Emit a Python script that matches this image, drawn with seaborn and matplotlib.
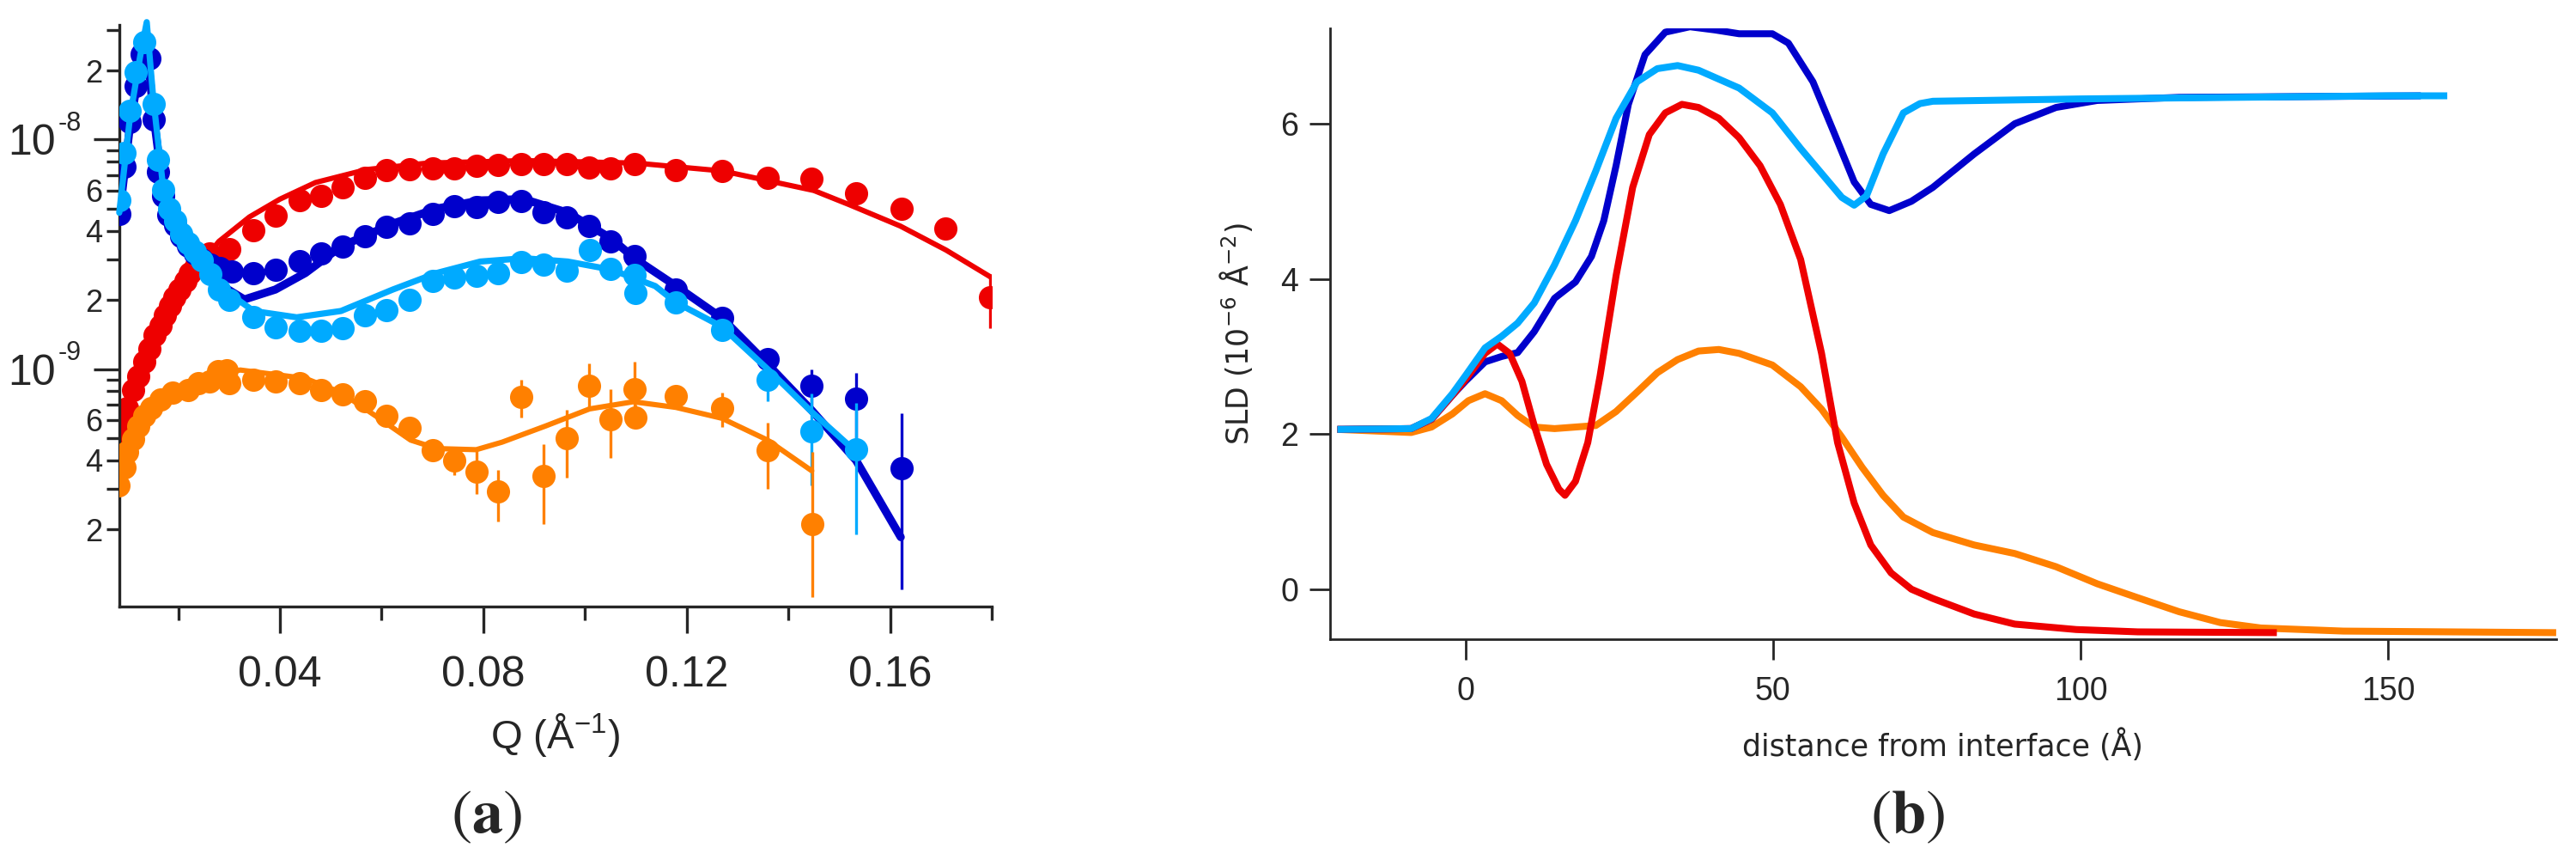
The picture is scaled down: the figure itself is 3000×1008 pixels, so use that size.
import numpy as np
import matplotlib
matplotlib.use("Agg")
import matplotlib.pyplot as plt
from matplotlib.ticker import FixedLocator, FixedFormatter
import seaborn as sns

# =========================
# Colours
# =========================
RED = "#EE0000"
DBLUE = "#0000CC"
LBLUE = "#00AAFF"
ORANGE = "#FF8000"

# =========================
# Panel (a): reflectivity data
# =========================
q_red = [0.0083, 0.0094, 0.0099, 0.0111, 0.0122, 0.0133, 0.0143, 0.0154, 0.0166, 0.0174,
         0.0184, 0.0193, 0.0203, 0.0214, 0.0223, 0.0234, 0.0246, 0.0262, 0.0300, 0.0348,
         0.0391, 0.0438, 0.0481, 0.0524, 0.0567, 0.0610, 0.0655, 0.0700, 0.0743, 0.0787,
         0.0829, 0.0875, 0.0919, 0.0964, 0.1008, 0.1050, 0.1097, 0.1179, 0.1269, 0.1359,
         0.1446, 0.1533, 0.1622, 0.1709, 0.1797]
r_red = [4.49e-10, 5.56e-10, 6.78e-10, 8.13e-10, 9.3e-10, 1.076e-9, 1.227e-9, 1.40e-9, 1.55e-9, 1.71e-9,
         1.89e-9, 2.05e-9, 2.22e-9, 2.42e-9, 2.62e-9, 2.80e-9, 2.99e-9, 3.20e-9, 3.33e-9, 4.03e-9,
         4.67e-9, 5.43e-9, 5.70e-9, 6.22e-9, 6.83e-9, 7.34e-9, 7.41e-9, 7.50e-9, 7.50e-9, 7.67e-9,
         7.75e-9, 7.85e-9, 7.85e-9, 7.85e-9, 7.55e-9, 7.50e-9, 7.80e-9, 7.35e-9, 7.30e-9, 6.84e-9,
         6.78e-9, 5.85e-9, 4.98e-9, 4.10e-9, 2.06e-9]
q_red_fit = [0.0084, 0.012, 0.016, 0.020, 0.024, 0.028, 0.034, 0.040, 0.047, 0.057,
             0.069, 0.088, 0.110, 0.127, 0.145, 0.152, 0.162, 0.171, 0.180]
r_red_fit = [4.4e-10, 9.0e-10, 1.45e-9, 2.1e-9, 2.8e-9, 3.6e-9, 4.6e-9, 5.5e-9, 6.5e-9, 7.4e-9,
             7.9e-9, 8.1e-9, 7.9e-9, 7.3e-9, 6.0e-9, 5.2e-9, 4.2e-9, 3.3e-9, 2.5e-9]
eb_red_q = [0.1797]
eb_red_lo = [1.5e-9]
eb_red_hi = [2.6e-9]

q_dblue = [0.0084, 0.0095, 0.0105, 0.0116, 0.0128, 0.0144, 0.0151, 0.0161, 0.0171, 0.0181,
           0.0194, 0.0205, 0.0220, 0.0233, 0.0247, 0.0264, 0.0281, 0.0305, 0.0348, 0.0391,
           0.0438, 0.0481, 0.0524, 0.0567, 0.0610, 0.0655, 0.0700, 0.0743, 0.0787, 0.0829,
           0.0875, 0.0919, 0.0964, 0.1008, 0.1050, 0.1097, 0.1179, 0.1269, 0.1359, 0.1446,
           0.1533, 0.1622]
r_dblue = [4.73e-9, 7.61e-9, 1.19e-8, 1.71e-8, 2.35e-8, 2.26e-8, 1.22e-8, 7.24e-9, 5.68e-9, 4.70e-9,
           4.25e-9, 3.80e-9, 3.45e-9, 3.20e-9, 3.00e-9, 2.85e-9, 2.75e-9, 2.67e-9, 2.62e-9, 2.71e-9,
           2.94e-9, 3.20e-9, 3.42e-9, 3.78e-9, 4.17e-9, 4.31e-9, 4.75e-9, 5.12e-9, 5.07e-9, 5.34e-9,
           5.40e-9, 4.81e-9, 4.60e-9, 4.22e-9, 3.60e-9, 3.10e-9, 2.22e-9, 1.67e-9, 1.10e-9, 8.45e-10,
           7.41e-10, 3.70e-10]
q_dblue_fit = [0.0084, 0.0105, 0.0125, 0.0138, 0.0151, 0.0171, 0.0194, 0.0220, 0.0250, 0.0280,
               0.0330, 0.0391, 0.0450, 0.0520, 0.0622, 0.0708, 0.0794, 0.0880, 0.0966, 0.1052,
               0.1098, 0.1179, 0.1269, 0.1359, 0.1446, 0.1533, 0.1621]
r_dblue_fit = [4.6e-9, 1.15e-8, 2.1e-8, 2.6e-8, 1.3e-8, 5.8e-9, 4.2e-9, 3.4e-9, 2.8e-9, 2.35e-9,
               2.01e-9, 2.22e-9, 2.62e-9, 3.42e-9, 4.30e-9, 5.00e-9, 5.43e-9, 5.50e-9, 4.80e-9, 3.70e-9,
               3.03e-9, 2.30e-9, 1.67e-9, 1.05e-9, 6.6e-10, 4.0e-10, 1.85e-10]
eb_dblue_q = [0.1446, 0.1533, 0.1622]
eb_dblue_lo = [6.6e-10, 4.4e-10, 1.1e-10]
eb_dblue_hi = [1.0e-9, 9.6e-10, 6.4e-10]

q_lblue = [0.0084, 0.0095, 0.0105, 0.0116, 0.0133, 0.0151, 0.0161, 0.0171, 0.0182, 0.0194,
           0.0205, 0.0220, 0.0233, 0.0247, 0.0264, 0.0280, 0.0300, 0.0348, 0.0391, 0.0438,
           0.0481, 0.0524, 0.0567, 0.0610, 0.0655, 0.0700, 0.0743, 0.0787, 0.0829, 0.0874,
           0.0919, 0.0964, 0.1009, 0.1051, 0.1097, 0.1099, 0.1179, 0.1269, 0.1359, 0.1446,
           0.1533]
r_lblue = [5.45e-9, 8.77e-9, 1.33e-8, 1.96e-8, 2.65e-8, 1.43e-8, 8.18e-9, 6.04e-9, 5.00e-9, 4.44e-9,
           3.90e-9, 3.53e-9, 3.24e-9, 2.97e-9, 2.60e-9, 2.22e-9, 2.01e-9, 1.68e-9, 1.52e-9, 1.47e-9,
           1.47e-9, 1.50e-9, 1.71e-9, 1.80e-9, 2.00e-9, 2.42e-9, 2.50e-9, 2.54e-9, 2.62e-9, 2.93e-9,
           2.84e-9, 2.68e-9, 3.29e-9, 2.73e-9, 2.57e-9, 2.14e-9, 1.95e-9, 1.48e-9, 9.0e-10, 5.37e-10,
           4.47e-10]
q_lblue_fit = [0.0084, 0.0105, 0.0125, 0.0138, 0.0151, 0.0171, 0.0194, 0.0220, 0.0250, 0.0280,
               0.0305, 0.0348, 0.0433, 0.0520, 0.0622, 0.0708, 0.0794, 0.0880, 0.0966, 0.1052,
               0.1138, 0.1179, 0.1269, 0.1359, 0.1446, 0.1533]
r_lblue_fit = [4.8e-9, 1.25e-8, 2.3e-8, 3.25e-8, 1.5e-8, 6.0e-9, 4.3e-9, 3.5e-9, 2.9e-9, 2.4e-9,
               2.1e-9, 1.79e-9, 1.68e-9, 1.79e-9, 2.22e-9, 2.62e-9, 2.94e-9, 3.04e-9, 2.94e-9, 2.71e-9,
               2.3e-9, 1.95e-9, 1.53e-9, 1.0e-9, 6.5e-10, 4.36e-10]
eb_lblue_q = [0.1359, 0.1446, 0.1533]
eb_lblue_lo = [7.25e-10, 3.1e-10, 1.9e-10]
eb_lblue_hi = [1.0e-9, 7.8e-10, 7.1e-10]

q_orange = [0.0083, 0.0094, 0.0100, 0.0111, 0.0122, 0.0133, 0.0146, 0.0166, 0.0189, 0.0219,
            0.0240, 0.0262, 0.0279, 0.0296, 0.0300, 0.0348, 0.0391, 0.0438, 0.0481, 0.0524,
            0.0567, 0.0610, 0.0655, 0.0700, 0.0743, 0.0787, 0.0829, 0.0875, 0.0919, 0.0964,
            0.1008, 0.1050, 0.1097, 0.1099, 0.1179, 0.1269, 0.1359, 0.1447]
r_orange = [3.12e-10, 3.74e-10, 4.34e-10, 4.96e-10, 5.65e-10, 6.25e-10, 6.78e-10, 7.36e-10, 7.87e-10, 8.13e-10,
            8.69e-10, 8.83e-10, 9.75e-10, 9.90e-10, 8.69e-10, 8.98e-10, 8.83e-10, 8.69e-10, 8.13e-10, 7.74e-10,
            7.24e-10, 6.25e-10, 5.56e-10, 4.42e-10, 4.00e-10, 3.56e-10, 2.92e-10, 7.53e-10, 3.42e-10, 4.99e-10,
            8.42e-10, 6.06e-10, 8.15e-10, 6.15e-10, 7.64e-10, 6.73e-10, 4.41e-10, 2.11e-10]
q_orange_fit = [0.0083, 0.0100, 0.0122, 0.0146, 0.0189, 0.0240, 0.0290, 0.0322, 0.0450, 0.0520,
                0.0588, 0.0657, 0.0709, 0.0786, 0.0837, 0.0923, 0.1009, 0.1095, 0.1179, 0.1269,
                0.1359, 0.1446]
r_orange_fit = [3.2e-10, 4.3e-10, 5.6e-10, 6.7e-10, 7.9e-10, 8.8e-10, 9.6e-10, 9.9e-10, 9.1e-10, 7.9e-10,
                6.25e-10, 4.9e-10, 4.5e-10, 4.45e-10, 4.8e-10, 5.65e-10, 6.7e-10, 7.2e-10, 6.8e-10, 6.1e-10,
                4.9e-10, 3.6e-10]
eb_orange_q = [0.0700, 0.0743, 0.0787, 0.0829, 0.0875, 0.0919, 0.0964, 0.1008, 0.1050, 0.1097,
               0.1099, 0.1179, 0.1269, 0.1359, 0.1447]
eb_orange_lo = [4.2e-10, 3.45e-10, 2.86e-10, 2.16e-10, 6.14e-10, 2.11e-10, 3.35e-10, 6.63e-10, 4.09e-10, 6.6e-10,
                5.6e-10, 7.1e-10, 5.57e-10, 3.0e-10, 1.01e-10]
eb_orange_hi = [4.7e-10, 4.57e-10, 4.5e-10, 3.63e-10, 8.98e-10, 4.7e-10, 6.65e-10, 1.06e-9, 8.16e-10, 1.08e-9,
                7.0e-10, 8.3e-10, 7.92e-10, 5.82e-10, 4.34e-10]

# =========================
# Panel (b): SLD profiles
# =========================
z_dblue = [-20.8, -8.8, -5.5, -2.1, 0.0, 3.2, 5.9, 8.5, 11.2, 14.5, 17.9, 20.5, 22.5, 24.5, 26.5,
           29.2, 32.5, 36.5, 40.5, 44.5, 49.9, 52.5, 56.5, 59.9, 63.2, 65.9, 68.9, 72.5, 76.0,
           82.7, 89.3, 96.0, 102.7, 116.0, 155.3]
sld_dblue = [2.06, 2.07, 2.19, 2.50, 2.68, 2.93, 3.00, 3.05, 3.32, 3.75, 3.96, 4.29, 4.75, 5.46, 6.25,
             6.89, 7.18, 7.25, 7.21, 7.16, 7.16, 7.04, 6.54, 5.89, 5.25, 4.96, 4.88, 5.00, 5.18,
             5.61, 6.00, 6.21, 6.30, 6.34, 6.36]

z_lblue = [-20.8, -8.8, -5.5, -2.1, 0.0, 3.2, 5.9, 8.5, 11.2, 14.5, 17.9, 21.2, 24.5, 27.9, 31.2,
           34.5, 37.9, 44.5, 49.9, 54.5, 57.9, 61.2, 63.2, 65.2, 67.9, 71.2, 73.9, 76.0, 100.0,
           150.0, 159.6]
sld_lblue = [2.06, 2.07, 2.20, 2.52, 2.75, 3.11, 3.26, 3.43, 3.69, 4.18, 4.75, 5.39, 6.07, 6.54, 6.71,
             6.75, 6.69, 6.46, 6.14, 5.68, 5.36, 5.05, 4.95, 5.07, 5.61, 6.14, 6.26, 6.29, 6.32,
             6.36, 6.36]

z_red = [-20.8, -8.8, -5.5, -2.1, 0.0, 3.2, 5.2, 7.2, 9.2, 11.2, 13.2, 15.2, 16.2, 17.9, 19.9,
         21.9, 24.5, 27.2, 29.9, 32.5, 35.2, 37.9, 41.2, 44.5, 47.9, 51.2, 54.5, 57.9, 60.5,
         63.2, 65.9, 69.2, 72.5, 76.0, 82.7, 89.3, 99.3, 109.3, 131.9]
sld_red = [2.06, 2.07, 2.19, 2.50, 2.70, 3.04, 3.16, 3.04, 2.68, 2.11, 1.61, 1.29, 1.21, 1.39, 1.89,
           2.75, 4.04, 5.18, 5.86, 6.14, 6.25, 6.21, 6.07, 5.82, 5.46, 4.96, 4.25, 3.04, 1.89,
           1.11, 0.57, 0.21, 0.00, -0.12, -0.32, -0.45, -0.52, -0.55, -0.56]

z_orange = [-20.8, -8.8, -5.5, -2.1, 0.5, 3.2, 5.9, 8.5, 11.2, 14.5, 21.2, 24.5, 27.9, 31.2, 34.5,
            37.9, 41.2, 44.5, 49.9, 54.5, 57.9, 61.2, 64.5, 67.9, 71.2, 76.0, 82.7, 89.3, 96.0,
            102.7, 109.3, 116.0, 122.7, 129.3, 142.7, 177.3]
sld_orange = [2.06, 2.02, 2.09, 2.26, 2.43, 2.52, 2.43, 2.24, 2.09, 2.07, 2.11, 2.29, 2.54, 2.79, 2.96,
              3.07, 3.09, 3.04, 2.89, 2.61, 2.32, 1.96, 1.57, 1.21, 0.93, 0.73, 0.57, 0.46, 0.29,
              0.07, -0.11, -0.29, -0.43, -0.50, -0.54, -0.56]

q_major = [0.04, 0.08, 0.12, 0.16]
q_minor = [0.02, 0.06, 0.10, 0.14, 0.18]
r_major = [1e-9, 1e-8]
r_minor = [2e-10, 3e-10, 4e-10, 5e-10, 6e-10, 7e-10, 8e-10, 9e-10,
           2e-9, 3e-9, 4e-9, 5e-9, 6e-9, 7e-9, 8e-9, 9e-9, 2e-8, 3e-8]
r_minor_labels = ["2", "", "4", "", "6", "", "", "",
                  "2", "", "4", "", "6", "", "", "",
                  "2", ""]
z_ticks = [0, 50, 100, 150]
sld_ticks = [0, 2, 4, 6]

# =========================
# Style
# =========================
sns.set_theme(style="ticks")
plt.rcParams["font.family"] = ["Liberation Sans", "DejaVu Sans"]
plt.rcParams["axes.linewidth"] = 1.2

fig = plt.figure(figsize=(15, 5.04), dpi=200)
axA = fig.add_axes([0.0463, 0.300, 0.3387, 0.6712])
axB = fig.add_axes([0.5163, 0.2623, 0.476, 0.705])

# =========================
# Panel (a)
# =========================
axA.set_yscale("log")
series_a = [
    (q_red, r_red, q_red_fit, r_red_fit, eb_red_q, eb_red_lo, eb_red_hi, RED, 2.2, 2),
    (q_dblue, r_dblue, q_dblue_fit, r_dblue_fit, eb_dblue_q, eb_dblue_lo, eb_dblue_hi, DBLUE, 3.4, 3),
    (q_lblue, r_lblue, q_lblue_fit, r_lblue_fit, eb_lblue_q, eb_lblue_lo, eb_lblue_hi, LBLUE, 2.6, 4),
    (q_orange, r_orange, q_orange_fit, r_orange_fit, eb_orange_q, eb_orange_lo, eb_orange_hi, ORANGE, 2.2, 5),
]
for q, r, qf, rf, eq, elo, ehi, col, lw, z in series_a:
    axA.vlines(eq, elo, ehi, color=col, lw=1.2, zorder=z)
    sns.scatterplot(x=q, y=r, color=col, s=95, linewidth=0, ax=axA, zorder=z + 0.1)
    sns.lineplot(x=qf, y=rf, color=col, lw=lw, sort=False, estimator=None, ax=axA,
                 zorder=z + 0.2, clip_on=(col != LBLUE), solid_joinstyle="round")

axA.set_xlim(0.0084, 0.18)
axA.set_ylim(9.25e-11, 3.16e-8)
axA.xaxis.set_major_locator(FixedLocator(q_major))
axA.xaxis.set_major_formatter(FixedFormatter(["0.04", "0.08", "0.12", "0.16"]))
axA.xaxis.set_minor_locator(FixedLocator(q_minor))
axA.yaxis.set_major_locator(FixedLocator(r_major))
axA.yaxis.set_major_formatter(FixedFormatter(["10", "10"]))
axA.yaxis.set_minor_locator(FixedLocator(r_minor))
axA.yaxis.set_minor_formatter(FixedFormatter(r_minor_labels))
axA.tick_params(axis="x", which="major", direction="out", length=11, width=1.2, labelsize=18, pad=9.5)
axA.tick_params(axis="x", which="minor", direction="out", length=5.8, width=1.2)
axA.tick_params(axis="y", which="major", direction="out", length=10.8, width=1.2, labelsize=18, pad=16)
axA.tick_params(axis="y", which="minor", direction="out", length=5.4, width=1.2, labelsize=13, pad=1.8)
for k, v in zip([9, 8], r_major):
    axA.annotate(f"-{k}", xy=(0, v), xycoords=("axes fraction", "data"),
                 xytext=(-25.5, 6.5), textcoords="offset points",
                 fontsize=11, ha="left", va="center")
axA.set_xlabel("Q (Å$\\mathregular{^{-1}}$)", fontsize=17, labelpad=7)
axA.set_ylabel("")
sns.despine(ax=axA)

# =========================
# Panel (b)
# =========================
series_b = [
    (z_orange, sld_orange, ORANGE, 2),
    (z_dblue, sld_dblue, DBLUE, 3),
    (z_red, sld_red, RED, 4),
    (z_lblue, sld_lblue, LBLUE, 5),
]
for zz, s, col, z in series_b:
    sns.lineplot(x=zz, y=s, color=col, lw=2.9, sort=False, estimator=None, ax=axB, zorder=z,
                 solid_joinstyle="round", solid_capstyle="butt")

axB.set_xlim(-22, 177.3)
axB.set_ylim(-0.64, 7.23)
axB.set_xticks(z_ticks)
axB.set_yticks(sld_ticks)
axB.tick_params(axis="both", direction="out", length=8.6, width=1.0, labelsize=13.5)
axB.tick_params(axis="x", pad=7)
axB.tick_params(axis="y", pad=4.7)
for sp in axB.spines.values():
    sp.set_linewidth(1.0)
axB.set_xlabel("distance from interface (Å)", fontsize=12.5, labelpad=9, family=["DejaVu Sans"])
axB.set_ylabel("SLD (10$\\mathregular{^{-6}}$ Å$\\mathregular{^{-2}}$)", fontsize=12.5, labelpad=11,
               family=["DejaVu Sans"])
sns.despine(ax=axB)

# panel letters
fig.text(566 / 3000, 1 - 951 / 1008, r"$(\mathbf{a})$", math_fontfamily="stix",
         fontsize=26, ha="center", va="center")
fig.text(2221 / 3000, 1 - 951 / 1008, r"$(\mathbf{b})$", math_fontfamily="stix",
         fontsize=26, ha="center", va="center")

fig.savefig("out.png", dpi=200, facecolor="white")
